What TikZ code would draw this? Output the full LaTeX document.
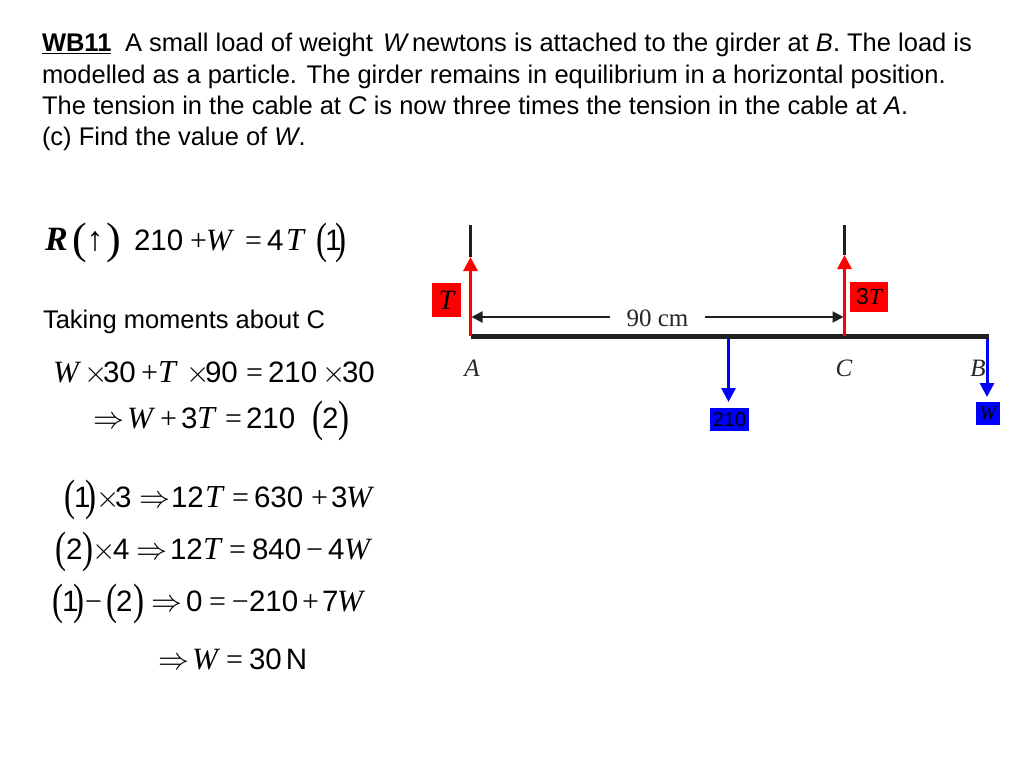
\documentclass[tikz,border=0pt]{standalone}
\usepackage{fix-cm}
\usepackage{fontspec}
\setmainfont{Liberation Sans}
\newfontfamily\serif{Liberation Serif}
\usetikzlibrary{arrows.meta}
\newcommand\fsz[1]{\fontsize{#1}{#1}\selectfont}
% absolute x placement inside a line node
\newcommand\basex{0}
\newcommand\p[2]{\rlap{\hspace*{\dimexpr #1pt-\basex pt\relax}#2}\ignorespaces}
\newcommand\mline[5]{\renewcommand\basex{#2}%
  \node[lineblock] (#1) at (#2,#4) {\makebox[\dimexpr #3pt-#2pt\relax][l]{\ignorespaces #5}};}
\newcommand\Wv{{\fsz{31}\serif\itshape W}}
\newcommand\Tv{{\fsz{32}\serif\itshape T}}
\newcommand\Op[1]{{\fsz{30}\serif #1}}
\newcommand\Imp{{\fsz{31}$\Rightarrow$}}
\newcommand\LPw{\raisebox{-3pt}{\fsz{44}\serif\symbol{40}}}
\newcommand\RPw{\raisebox{-3pt}{\fsz{44}\serif\symbol{41}}}
\newcommand\LP{\raisebox{-3pt}{\scalebox{.75}[1]{\fsz{44}\serif\symbol{40}}}}
\newcommand\RP{\raisebox{-3pt}{\scalebox{.75}[1]{\fsz{44}\serif\symbol{41}}}}
\tikzset{
  lineblock/.style={anchor=base west,inner sep=0pt,outer sep=0pt,font=\fsz{29.5},text=black},
  para/.style={anchor=base west,inner sep=0pt,outer sep=0pt,font=\fsz{25.5},text=black},
  beamline/.style={line width=5pt,draw=black!88},
  cableline/.style={line width=2.4pt,draw=black!88},
  dimline/.style={line width=2pt,draw=black!88,-{Triangle[length=11pt,width=11pt]}},
  tensionline/.style={line width=3pt,draw=red,-{Triangle[length=14pt,width=14pt]}},
  loadline/.style={line width=3pt,draw=blue,-{Triangle[length=14pt,width=14pt]}},
  redbox/.style={fill=red,inner sep=0pt,text=black},
  bluebox/.style={fill=blue,inner sep=0pt,text=black},
  ptlabel/.style={inner sep=0pt,anchor=base,font=\fsz{25}\serif\itshape,text=black!85},
}
\begin{document}
\begin{tikzpicture}[x=1pt,y=-1pt]
\useasboundingbox[fill=white] (0,0) rectangle (1024,768);
% statement
\mline{l1}{42}{973}{52}{\p{42}{\fsz{25.5}\bfseries\underline{WB11}}\p{125}{\fsz{25.5}A small load of weight}\p{383}{\fsz{25.5}\itshape W}\p{412}{\fsz{25.5}newtons is attached to the girder at \textit{B}. The load is}}
\node[para] (l2) at (42,83) {modelled as a particle. The girder remains in equilibrium in a horizontal position.};
\node[para] (l3) at (42,114) {The tension in the cable at \textit{C} is now three times the tension in the cable at \textit{A}.};
\node[para] (l4) at (42,145) {(c) Find the value of \textit{W}.};
% working
\mline{m1}{45}{346}{250}{\p{45}{{\fsz{34}\serif\bfseries\itshape R}}\p{72}{\LPw}\p{86.5}{\fsz{34}↑}\p{106}{\RPw}\p{134}{210}\p{190}{\Op{+}}\p{206}{\Wv}\p{245}{\Op{=}}\p{267}{4}\p{286}{\Tv}\p{316}{\LP}\p{325}{1}\p{335}{\RP}}
\node[para] (m2) at (43,328) {Taking moments about C};
\mline{m3}{53}{374}{382}{\p{53}{\Wv}\p{84}{\Op{$\times$}}\p{103}{30}\p{141}{\Op{+}}\p{158}{\Tv}\p{186}{\Op{$\times$}}\p{205}{90}\p{246}{\Op{=}}\p{268}{210}\p{322}{\Op{$\times$}}\p{342}{30}}
\mline{m4}{93}{349}{428}{\p{93}{\Imp}\p{127}{\Wv}\p{160}{\Op{+}}\p{181}{3}\p{197}{\Tv}\p{225}{\Op{=}}\p{246}{210}\p{312}{\LP}\p{322}{2}\p{338}{\RP}}
\mline{m5}{63}{374}{507}{\p{64}{\LP}\p{74}{1}\p{85}{\RP}\p{96}{\Op{$\times$}}\p{115}{3}\p{139}{\Imp}\p{171}{12}\p{205}{\Tv}\p{232}{\Op{=}}\p{254}{630}\p{311}{\Op{+}}\p{331}{3}\p{346}{\Wv}}
\mline{m6}{54}{373}{559}{\p{55}{\LP}\p{66}{2}\p{82}{\RP}\p{92}{\Op{$\times$}}\p{113}{4}\p{136}{\Imp}\p{170}{12}\p{203}{\Tv}\p{229}{\Op{=}}\p{252}{840}\p{306}{\Op{−}}\p{328}{4}\p{344}{\Wv}}
\mline{m7}{51}{366}{611}{\p{52}{\LP}\p{62}{1}\p{73}{\RP}\p{85}{\Op{−}}\p{106}{\LP}\p{116}{2}\p{133}{\RP}\p{151}{\Imp}\p{186}{0}\p{209}{\Op{=}}\p{232}{\Op{−}}\p{249}{210}\p{302}{\Op{+}}\p{322}{7}\p{337}{\Wv}}
\mline{m8}{158}{309}{669}{\p{158}{\Imp}\p{192}{\Wv}\p{226}{\Op{=}}\p{249}{30}\p{286}{N}}
% diagram coordinates
\coordinate (A) at (470.5,336);
\coordinate (C) at (844.5,336);
\coordinate (D) at (728.5,336);
\coordinate (E) at (989,336);
\coordinate (Bl) at (987,336);
\coordinate (Atop) at (470.5,225);
\coordinate (Ctop) at (844.5,225);
\coordinate (Atip) at (470.5,257);
\coordinate (Ctip) at (844.5,255);
\coordinate (Dtip) at (728.5,402);
\coordinate (Btip) at (987,397);
\coordinate (dimA) at (471.5,317);
\coordinate (dimC) at (843.5,317);
% labels
\node[inner sep=0pt,minimum width=95pt,text height=18pt,text depth=0pt,font=\fsz{25}\serif,text=black!85] (dimlabel) at (657.5,317) {90 cm};
\node[redbox,minimum width=29pt,minimum height=34pt,font=\fsz{28}\serif\itshape] (Tbox) at (446.5,300) {T};
\node[redbox,minimum width=38pt,minimum height=30pt,font=\fsz{23}] (Cbox) at (869,297) {3{\serif\itshape T}};
\node[bluebox,minimum width=39pt,minimum height=23pt,font=\fsz{20}] (Dbox) at (729.5,419.5) {210};
\node[bluebox,minimum width=24pt,minimum height=23pt,font=\fsz{20}\serif\itshape] (Bbox) at (988,413.5) {W};
\node[ptlabel] (Alabel) at (472,376) {A};
\node[ptlabel] (Clabel) at (844,376) {C};
\node[ptlabel] (Blabel) at (978,376) {B};
% connectors
\draw[cableline] (Atop) -- (Atip);
\draw[cableline] (Ctop) -- (Ctip);
\draw[loadline] (D) -- (Dtip);
\draw[loadline] (Bl) -- (Btip);
\draw[beamline] (A) -- (E);
\draw[tensionline] (A) -- (Atip);
\draw[tensionline] (C) -- (Ctip);
\draw[dimline] (dimlabel.west) -- (dimA);
\draw[dimline] (dimlabel.east) -- (dimC);
\end{tikzpicture}
\end{document}
